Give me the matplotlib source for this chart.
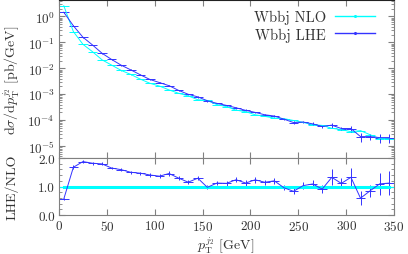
import numpy as np
import matplotlib
matplotlib.use("Agg")
import matplotlib.pyplot as plt
from matplotlib.lines import Line2D
from matplotlib.ticker import LogLocator, NullFormatter, MultipleLocator

plt.rcParams['font.family'] = 'cmr10'
plt.rcParams['mathtext.fontset'] = 'cm'
plt.rcParams['axes.formatter.use_mathtext'] = True

# bin centres (GeV), 10 GeV bins
pt = [5, 15, 25, 35, 45, 55, 65, 75, 85, 95, 105, 115, 125, 135, 145, 155, 165, 175,
      185, 195, 205, 215, 225, 235, 245, 255, 265, 275, 285, 295, 305, 315, 325, 335, 345]
bin_halfwidth = 5

nlo = [2.58, 0.261, 0.0843, 0.0437, 0.0212, 0.0133, 0.00830, 0.00581, 0.00383, 0.00265,
       0.00207, 0.00147, 0.00109, 0.000869, 0.000615, 0.000579, 0.000399, 0.000335,
       0.000244, 0.000214, 0.000162, 0.000141, 0.000121, 0.000115, 9.79e-5, 8.26e-5,
       6.65e-5, 6.32e-5, 4.89e-5, 4.32e-5, 3.62e-5, 3.97e-5, 2.76e-5, 1.96e-5, 1.91e-5]
nlo_relerr = [0.01] * 35

lhe = [1.45, 0.437, 0.158, 0.0794, 0.0380, 0.0219, 0.0132, 0.00871, 0.00562, 0.00372,
       0.00282, 0.00214, 0.00141, 0.00100, 0.000794, 0.000562, 0.000447, 0.000372,
       0.000302, 0.000240, 0.000200, 0.000162, 0.000145, 0.000110, 8.13e-5, 8.51e-5,
       7.24e-5, 5.75e-5, 6.46e-5, 4.79e-5, 4.79e-5, 2.34e-5, 2.34e-5, 2.14e-5, 2.14e-5]
lhe_relerr = [0.04, 0.04, 0.03, 0.03, 0.03, 0.03, 0.03, 0.04, 0.04, 0.04, 0.05, 0.05,
              0.05, 0.06, 0.06, 0.07, 0.07, 0.07, 0.07, 0.08, 0.08, 0.08, 0.09, 0.10,
              0.12, 0.12, 0.13, 0.15, 0.21, 0.16, 0.24, 0.40, 0.25, 0.36, 0.37]

labels = ["Wbbj NLO", "Wbbj LHE"]
col_nlo = "#00ffff"
col_lhe = "#3333ff"

pt = np.array(pt); nlo = np.array(nlo); lhe = np.array(lhe)
nlo_err = nlo * np.array(nlo_relerr)
lhe_err = lhe * np.array(lhe_relerr)
ratio = lhe / nlo
ratio_err = lhe_err / nlo
ones = nlo / nlo
ones_err = nlo_err / nlo

W, H = 408, 255
fig = plt.figure(figsize=(W / 100, H / 100), dpi=100)
L, R = 59, 394
ax = fig.add_axes([L / W, 1 - 159 / H, (R - L) / W, 158 / H])
axr = fig.add_axes([L / W, 1 - 216 / H, (R - L) / W, 57 / H], sharex=ax)

grey = "#808080"
tc = "#333333"
fs = 10

ax.errorbar(pt, nlo, yerr=nlo_err, xerr=bin_halfwidth, color=col_nlo, lw=0.7,
            elinewidth=0.7, capsize=0)
ax.errorbar(pt, lhe, yerr=lhe_err, xerr=bin_halfwidth, color=col_lhe, lw=0.7,
            elinewidth=0.7, capsize=0)
ax.set_yscale('log')
ax.set_ylim(3.5e-6, 4.3)
ax.set_xlim(0, 350)
ax.yaxis.set_minor_locator(LogLocator(base=10, subs=np.arange(2, 10), numticks=20))
ax.yaxis.set_minor_formatter(NullFormatter())
ax.set_yticks([1, 1e-1, 1e-2, 1e-3, 1e-4, 1e-5])
ax.set_yticklabels([r"$10^{0}$", r"$10^{-1}$", r"$10^{-2}$", r"$10^{-3}$", r"$10^{-4}$", r"$10^{-5}$"])
ax.tick_params(labelbottom=False)

handles = [Line2D([], [], color=col_nlo, lw=1.0, marker='o', ms=1.2),
           Line2D([], [], color=col_lhe, lw=1.0, marker='o', ms=1.2)]
leg = ax.legend(handles, labels, loc='upper right', frameon=False, markerfirst=False,
                fontsize=fs + 0.5, handlelength=2.8, borderaxespad=0.3,
                labelspacing=0.2, handletextpad=0.6, bbox_to_anchor=(0.975, 1.0))
for t in leg.get_texts():
    t.set_color(tc)

axr.errorbar(pt, ones, yerr=ones_err, xerr=bin_halfwidth, color=col_nlo, lw=2.2,
             elinewidth=0.8, capsize=0)
axr.errorbar(pt, ratio, yerr=ratio_err, xerr=bin_halfwidth, color=col_lhe, lw=0.7,
             elinewidth=0.7, capsize=0)
axr.set_ylim(0, 2)
axr.set_xlim(0, 350)
axr.set_yticks([0, 1, 2])
axr.set_yticklabels(["0.0", "1.0", "2.0"])
axr.yaxis.set_minor_locator(MultipleLocator(0.2))
axr.xaxis.set_major_locator(MultipleLocator(50))

fig.text(12 / W, 1 - 80 / H, r"$\mathrm{d}\sigma/\mathrm{d}p_\mathrm{T}^{j_2}$ [pb/GeV]",
         rotation=90, ha='center', va='center', fontsize=fs, color=tc)
fig.text(12 / W, 1 - 187 / H, "LHE/NLO", rotation=90, ha='center', va='center',
         fontsize=fs, color=tc)
fig.text(226 / W, 1 - 246 / H, r"$p_\mathrm{T}^{j_2}$ [GeV]", ha='center', va='center',
         fontsize=fs, color=tc)

for a in (ax, axr):
    for s in a.spines.values():
        s.set_color(grey)
        s.set_linewidth(0.8)
    a.tick_params(which='both', direction='in', top=True, right=True, colors=grey,
                  labelcolor=tc, labelsize=9.5)
    a.tick_params(which='major', length=4)
    a.tick_params(which='minor', length=2)
    a.tick_params(axis='y', pad=3)
    a.tick_params(axis='x', pad=3)
ax.spines['top'].set_color('#222222')

fig.savefig("out.png", dpi=100)
